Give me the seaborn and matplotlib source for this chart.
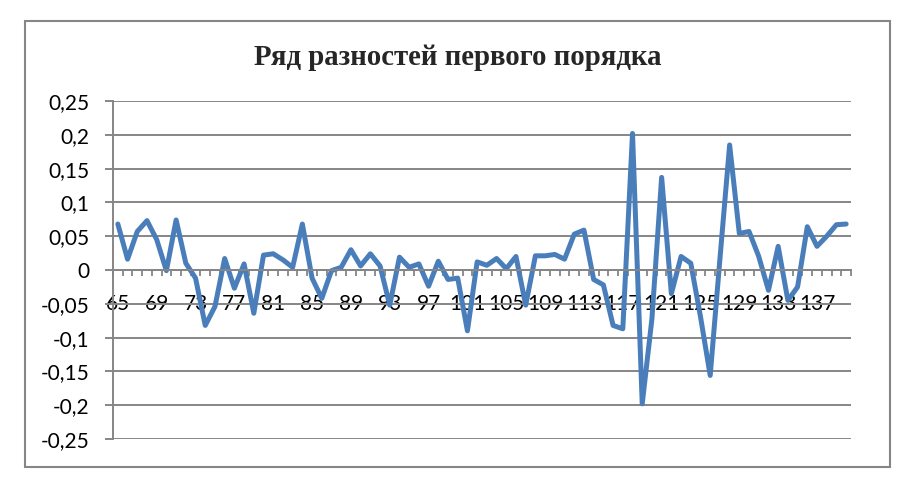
import numpy as np
import pandas as pd
import matplotlib
matplotlib.use("Agg")
import matplotlib.pyplot as plt
from matplotlib.patches import Rectangle
from matplotlib.ticker import FixedLocator, FuncFormatter
import seaborn as sns

# period numbers (x categories) and first-order differences
periods = list(range(65, 141))
diffs = [
    0.068, 0.016, 0.057, 0.073, 0.045, -0.001, 0.074, 0.010, -0.012, -0.082,
    -0.054, 0.017, -0.027, 0.009, -0.064, 0.022, 0.024, 0.015, 0.004, 0.068,
    -0.012, -0.042, -0.001, 0.004, 0.030, 0.006, 0.024, 0.006, -0.052, 0.019,
    0.004, 0.009, -0.024, 0.013, -0.014, -0.012, -0.090, 0.012, 0.007, 0.017,
    0.002, 0.020, -0.052, 0.021, 0.021, 0.023, 0.016, 0.053, 0.059, -0.014,
    -0.022, -0.082, -0.087, 0.202, -0.198, -0.072, 0.137, -0.035, 0.020, 0.010,
    -0.069, -0.156, 0.016, 0.185, 0.054, 0.057, 0.020, -0.030, 0.035, -0.045,
    -0.025, 0.064, 0.035, 0.050, 0.067, 0.068,
]
x_labels = list(range(65, 141, 4))
y_ticks = [-0.25, -0.2, -0.15, -0.1, -0.05, 0, 0.05, 0.1, 0.15, 0.2, 0.25]

title = "Ряд разностей первого порядка"

df = pd.DataFrame({"period": periods, "diff": diffs})

sns.set_theme(style="white")
plt.rcParams["font.family"] = ["Lato", "DejaVu Sans"]

W, H = 920, 492
fig = plt.figure(figsize=(W / 100, H / 100), dpi=100)
ax = fig.add_axes([113 / W, (H - 439) / H, (851 - 113) / W, (439 - 101) / H])

grey = "#868686"

# chart area frame
fig.patches.append(Rectangle((25 / W, (H - 467) / H), (890 - 25) / W, (467 - 21) / H,
                             transform=fig.transFigure, fill=False,
                             edgecolor=grey, linewidth=1.5))

sns.lineplot(data=df, x="period", y="diff", ax=ax, color="#4A7EBB", linewidth=3.6)

ax.set_xlim(64.5, 140.5)
ax.set_ylim(-0.25, 0.25)
ax.set_xlabel("")
ax.set_ylabel("")

ax.set_yticks(y_ticks)
ax.yaxis.set_major_formatter(FuncFormatter(
    lambda v, p: "0" if abs(v) < 1e-9 else f"{v:g}".replace(".", ",")))
ax.grid(axis="y", color=grey, linewidth=1.4)
ax.grid(axis="x", visible=False)
ax.set_axisbelow(True)

for s in ["top", "right"]:
    ax.spines[s].set_visible(False)
ax.spines["left"].set_color(grey)
ax.spines["left"].set_linewidth(1.4)
ax.spines["bottom"].set_position(("data", 0))
ax.spines["bottom"].set_color(grey)
ax.spines["bottom"].set_linewidth(1.4)

ax.set_xticks(x_labels)
ax.set_xticklabels([str(v) for v in x_labels])
ax.xaxis.set_minor_locator(FixedLocator(np.arange(64.5, 141, 1)))
ax.tick_params(axis="x", which="major", length=0, pad=17, labelsize=15, colors="black")
ax.tick_params(axis="x", which="minor", bottom=True, length=4.5, width=1.3, color=grey)
ax.tick_params(axis="y", which="major", left=True, length=5.8, width=1.4, color=grey,
               pad=11, labelsize=15, labelcolor="black")

fig.text(458 / W, (H - 65) / H, title, ha="center", va="baseline",
         fontsize=20.7, fontweight="bold", family=["Liberation Serif", "DejaVu Serif"])

fig.savefig("out.png", dpi=100, facecolor="white")
